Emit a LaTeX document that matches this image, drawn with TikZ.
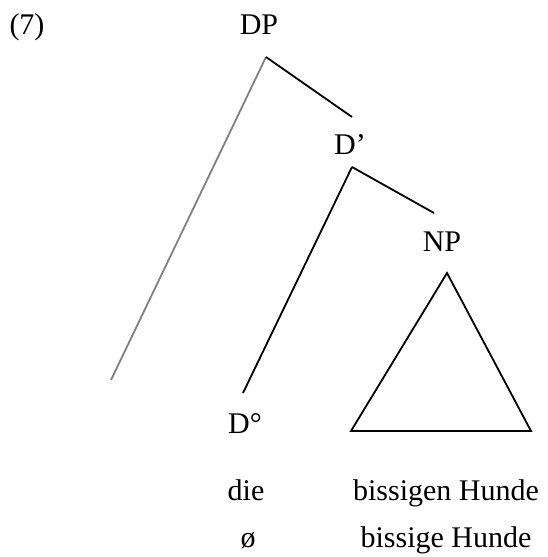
\documentclass[tikz,border=0pt]{standalone}
\usepackage{fontspec}
\setmainfont{Liberation Serif}
\usepackage{tikz}

\begin{document}
\begin{tikzpicture}[x=1pt, y=-1pt, thick, line width=1.8pt,
    every node/.style={anchor=base, inner sep=0pt, font=\fontsize{30}{35}\selectfont}]
            \useasboundingbox (0,0) rectangle (548,557);
            \node (ex) at (27,34) {(7)};
            \node (DP) at (259,34) {DP};
            \node (Dbar) at (350,154) {D'};
            \node (NP) at (442,251) {NP};
            \node (D0) at (245,433) {D°};
            \node (die) at (246,500) {die};
            \node (bissigen) at (446,500) {bissigen Hunde};
            \node (null) at (248,547) {ø};
            \node (bissige) at (446,547) {bissige Hunde};

            \coordinate (dp-top) at (266,57);
            \coordinate (dbar-in) at (352,117);
            \coordinate (dbar-top) at (352,167);
            \coordinate (np-in) at (434,213);
            \coordinate (d0-in) at (243,393);
            \coordinate (spec) at (111,380);
            \coordinate (tri-top) at (447,273);
            \coordinate (tri-left) at (351,431);
            \coordinate (tri-right) at (531,431);

            \draw[gray] (dp-top) -- (spec);
            \draw (dp-top) -- (dbar-in);
            \draw (dbar-top) -- (d0-in);
            \draw (dbar-top) -- (np-in);
            \draw (tri-top) -- (tri-left) -- (tri-right) -- cycle;
        \end{tikzpicture}
\end{document}
